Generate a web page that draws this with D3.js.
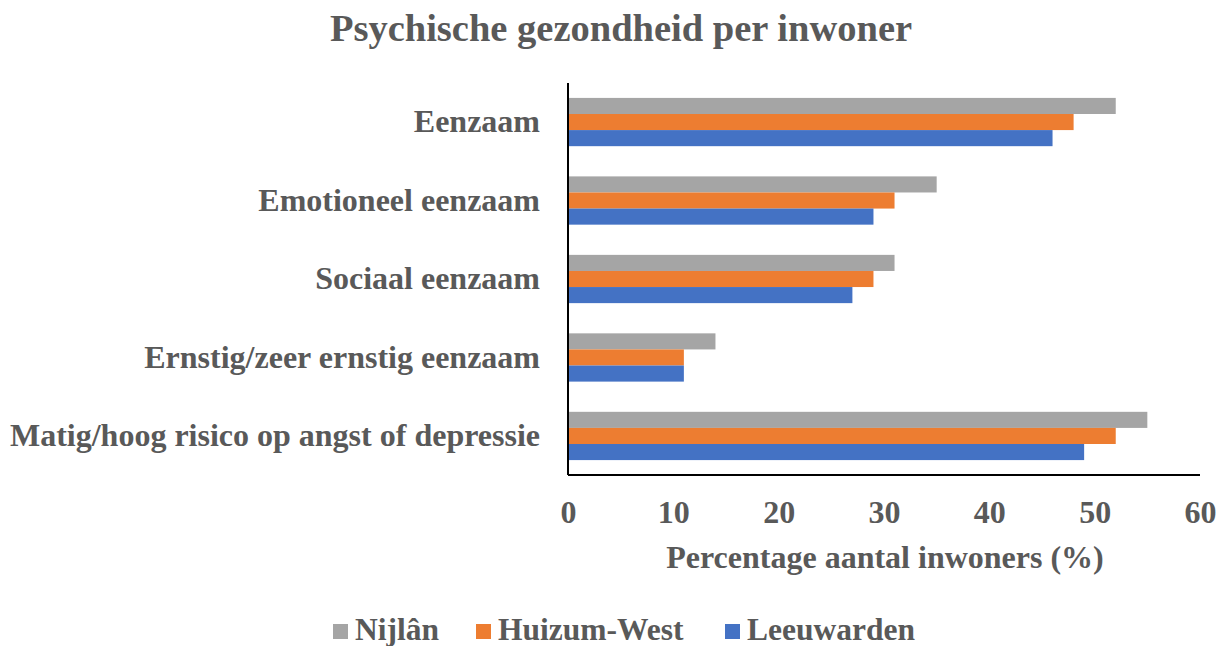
<!DOCTYPE html>
<html><head><meta charset="utf-8">
<script src="https://cdn.jsdelivr.net/npm/d3@7"></script>
<style>body{margin:0;background:#fff;} text{font-family:"Liberation Serif","Times New Roman",serif;font-weight:bold;fill:#595959;}</style>
</head><body>
<svg id="c" width="1223" height="646"></svg>
<script>
const categories = ["Eenzaam","Emotioneel eenzaam","Sociaal eenzaam","Ernstig/zeer ernstig eenzaam","Matig/hoog risico op angst of depressie"];
const seriesNames = ["Nijlân","Huizum-West","Leeuwarden"];
const nijlan = [52,35,31,14,55];
const huizum = [48,31,29,11,52];
const leeuwarden = [46,29,27,11,49];
const colors = ["#A5A5A5","#ED7D31","#4472C4"];
const xTicks = [0,10,20,30,40,50,60];

const svg = d3.select("#c");
const L = 568, R = 1200, T = 83, B = 475;
const x = d3.scaleLinear().domain([0,60]).range([L,R]);
const y = d3.scaleBand().domain(categories).range([T,B]).paddingInner(0.385).paddingOuter(0.19);
const inner = d3.scaleBand().domain(seriesNames).range([0,y.bandwidth()]);
const values = [nijlan,huizum,leeuwarden];

svg.append("text").attr("x",621).attr("y",41).attr("text-anchor","middle").attr("font-size",38.5).text("Psychische gezondheid per inwoner");

categories.forEach((c,i)=>{
  seriesNames.forEach((s,j)=>{
    svg.append("rect").attr("x",x(0)).attr("y",y(c)+inner(s)).attr("width",x(values[j][i])-x(0)).attr("height",inner.bandwidth()).attr("fill",colors[j]);
  });
});

const ya = svg.append("g").attr("transform",`translate(${L},0)`).call(d3.axisLeft(y).tickSize(0).tickPadding(28));
ya.select(".domain").attr("stroke","#000").attr("stroke-width",2).attr("d",`M0,${T}V${B}`);
ya.selectAll("text").attr("font-size",32).style("font-family","Liberation Serif").attr("fill","#595959");

const xa = svg.append("g").attr("transform",`translate(0,${B})`).call(d3.axisBottom(x).tickValues(xTicks).tickSize(0));
xa.select(".domain").attr("stroke","#000").attr("stroke-width",2).attr("d",`M${L},0H${R}`);
xa.selectAll("text").attr("font-size",32).attr("y",48).attr("dy",0).style("font-family","Liberation Serif").attr("fill","#595959");

svg.append("text").attr("x",885).attr("y",568).attr("text-anchor","middle").attr("font-size",32).text("Percentage aantal inwoners (%)");

const legX = [333,476,725];
seriesNames.forEach((s,j)=>{
  const g = svg.append("g").attr("transform",`translate(${legX[j]},640)`);
  g.append("rect").attr("x",0).attr("y",-16).attr("width",15).attr("height",15).attr("fill",colors[j]);
  g.append("text").attr("x",22).attr("y",0).attr("font-size",31.5).text(s);
});
</script>
</body></html>
